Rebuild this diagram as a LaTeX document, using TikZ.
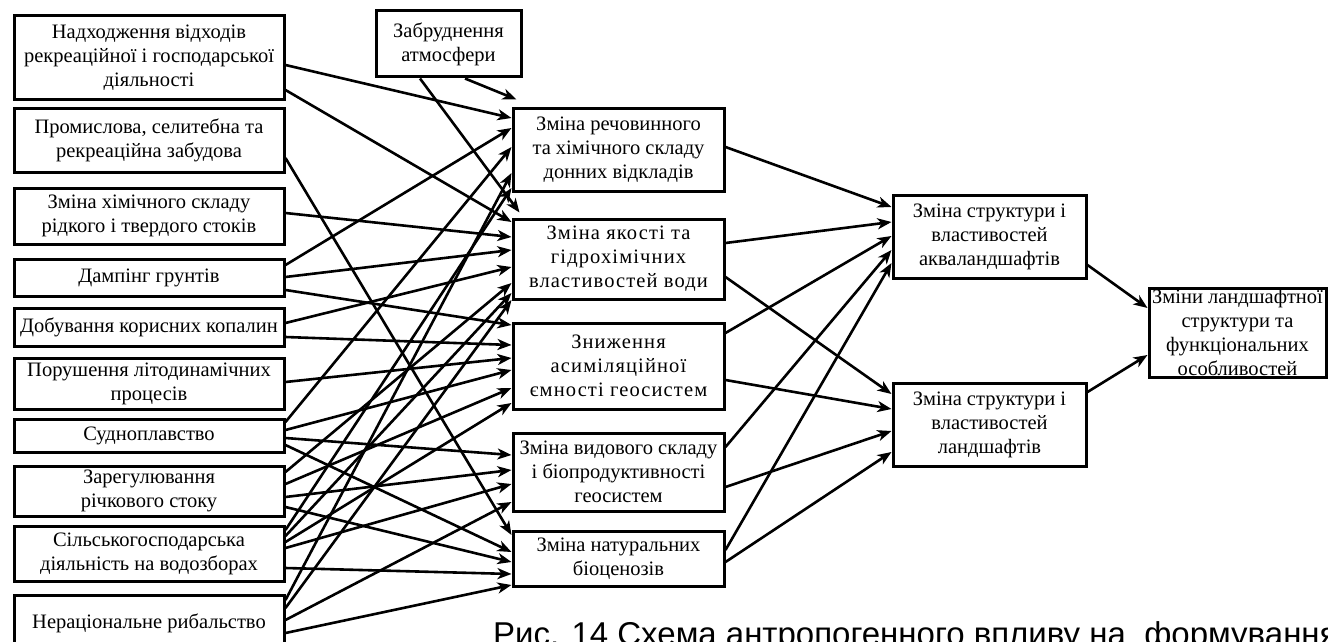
\documentclass[tikz,border=0pt]{standalone}
\usepackage{fontspec}
\setmainfont{Liberation Serif}
\newfontfamily\capfont{Liberation Sans}
\newfontfamily\widefont[LetterSpace=5.5]{Liberation Serif}
\usetikzlibrary{arrows.meta}

\tikzset{
  box/.style={draw, line width=3pt, align=center, inner sep=2pt,
              font=\fontsize{20.5}{24}\selectfont},
  widebox/.style={box, font=\widefont\fontsize{20.5}{24}\selectfont},
  arr/.style={line width=2.6pt, -{Stealth[length=14pt,width=11pt,inset=4pt]}},
}

\begin{document}
\begin{tikzpicture}[x=1pt,y=-1pt]
    \path[use as bounding box] (0,0) rectangle (1328,642);
    \clip (0,0) rectangle (1328,642);
    % factors
    \node[box, minimum width=270pt, minimum height=83pt] (nadkh)   at (149,57.5)  {Надходження відходів\\рекреаційної і господарської\\діяльності};
    \node[box, minimum width=270pt, minimum height=64pt] (prom)    at (149,140)   {Промислова, селитебна та\\рекреаційна забудова};
    \node[box, minimum width=270pt, minimum height=56pt] (khim)    at (149,216)   {Зміна хімічного складу\\рідкого і твердого стоків};
    \node[box, minimum width=270pt, minimum height=37pt] (damp)    at (149,277.5) {Дампінг грунтів};
    \node[box, minimum width=270pt, minimum height=38pt] (dobuv)   at (149,327)   {Добування корисних копалин};
    \node[box, minimum width=270pt, minimum height=51pt] (porush)  at (149,383.5) {Порушення літодинамічних\\процесів};
    \node[box, minimum width=270pt, minimum height=33pt] (sudno)   at (149,435.5) {Судноплавство};
    \node[box, minimum width=270pt, minimum height=50pt] (zaregul) at (149,491)   {Зарегулювання\\річкового стоку};
    \node[box, minimum width=270pt, minimum height=55pt] (silsk)   at (149,553.5) {Сільськогосподарська\\діяльність на водозборах};
    \node[box, minimum width=270pt, minimum height=56pt] (nerats)  at (149,623)   {Нераціональне рибальство};
    \node[box, minimum width=145pt, minimum height=66pt] (zabr)    at (448.5,44)  {Забруднення\\атмосфери};
    % changes
    \node[box, minimum width=211pt, minimum height=83pt]     (rechov) at (618.5,149.5) {Зміна речовинного\\та хімічного складу\\донних відкладів};
    \node[widebox, minimum width=211pt, minimum height=80pt] (yakist) at (618.5,259)   {Зміна якості та\\гідрохімічних\\властивостей води};
    \node[widebox, minimum width=211pt, minimum height=86pt] (znyzh)  at (618.5,366)   {Зниження\\асиміляційної\\ємності геосистем};
    \node[box, minimum width=211pt, minimum height=78pt]     (vydov)  at (618.5,472)   {Зміна видового складу\\і біопродуктивності\\геосистем};
    \node[box, minimum width=211pt, minimum height=55pt]     (natur)  at (618.5,558.5) {Зміна натуральних\\біоценозів};
    \node[box, minimum width=193pt, minimum height=83pt] (akva)    at (989.5,236.5) {Зміна структури і\\властивостей\\акваландшафтів};
    \node[box, minimum width=193pt, minimum height=83pt] (landsh)  at (989.5,424.5) {Зміна структури і\\властивостей\\ландшафтів};
    \node[box, minimum width=177pt, minimum height=89pt, inner sep=0pt] (final) at (1237.5,332.5) {Зміни ландшафтної\\структури та\\функціональних\\особливостей};
    % arrows
    \foreach \s/\sy/\t/\ty in {nadkh/65/rechov/118, nadkh/90/yakist/222,
        prom/158/natur/535, khim/213/yakist/237,
        damp/265/rechov/128, damp/277/yakist/250, damp/290/znyzh/325,
        dobuv/323/yakist/267, dobuv/337/znyzh/345, porush/382/znyzh/358,
        sudno/422/rechov/147, sudno/430/znyzh/370, sudno/438/vydov/455, sudno/445/natur/552,
        zaregul/472/yakist/283, zaregul/484/znyzh/388, zaregul/497/vydov/470,
        zaregul/507/natur/562,
        silsk/530/rechov/188, silsk/536/yakist/293, silsk/542/znyzh/403,
        silsk/548/vydov/484, silsk/568/natur/574,
        nerats/600/rechov/173, nerats/608/yakist/300, nerats/620/vydov/502,
        nerats/633/natur/585}
      \draw[arr] (\s.east |- 0,\sy) -- (\t.west |- 0,\ty);
    \draw[arr] (zabr.south -| 465,0) -- ([shift={(5,-7)}]rechov.north west);
    \draw[arr] (zabr.south -| 420,0) -- ([shift={(8,-5)}]yakist.north west);
    \foreach \s/\sy/\t/\ty in {rechov/147/akva/207, yakist/243/akva/222,
        znyzh/333/akva/236, vydov/447/akva/250, natur/550/akva/263,
        yakist/277/landsh/394, znyzh/380/landsh/409, vydov/487/landsh/431,
        natur/562/landsh/452}
      \draw[arr] (\s.east |- 0,\sy) -- (\t.west |- 0,\ty);
    \draw[arr] (akva.east |- 0,265) -- (final.west |- 0,308);
    \draw[arr] (landsh.east |- 0,392) -- (final.west |- 0,355);
    % caption
    \node[anchor=base west, inner sep=0pt, font=\capfont\fontsize{33}{40}\selectfont] (caption)
      at (493,645.6) {Рис. 14 Схема антропогенного впливу на\ \ формування};
\end{tikzpicture}
\end{document}
